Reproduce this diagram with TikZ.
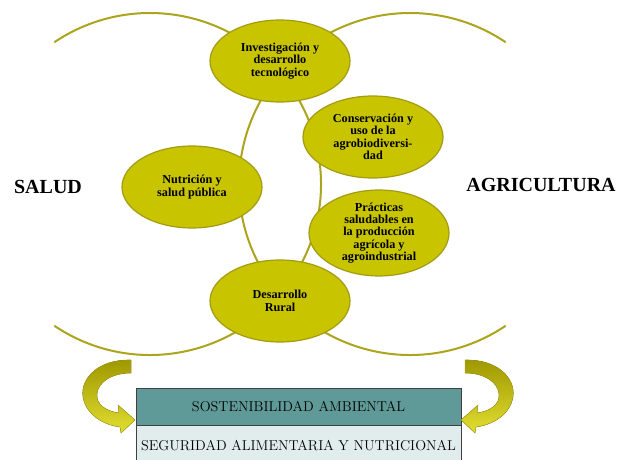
\documentclass[tikz,border=0pt]{standalone}
\usepackage{fontspec}
\newfontfamily\titlefont{Liberation Serif}[BoldFont={Liberation Serif Bold}]
\usetikzlibrary{shapes.geometric,positioning}

\definecolor{olivefill}{HTML}{C8C400}
\definecolor{olivedraw}{HTML}{A39C12}
\definecolor{olivering}{HTML}{ABA41C}
\definecolor{tealbox}{HTML}{5F9A98}
\definecolor{palebox}{HTML}{E1EDED}
\definecolor{arrowdark}{HTML}{9E9800}
\definecolor{arrowlight}{HTML}{E2DE30}

\tikzset{
  tema/.style={ellipse, fill=olivefill, draw=olivedraw, line width=1.2pt,
    minimum width=140pt, minimum height=82pt, inner sep=0pt, align=center,
    font=\titlefont\bfseries\fontsize{12.2}{12.4}\selectfont},
  anillo/.style={draw=olivering, line width=2pt},
  franja/.style={draw=black!75, line width=0.8pt, minimum width=325pt,
    minimum height=37pt, inner sep=0pt, font=\fontsize{14.3}{15}\selectfont},
  eje/.style={font=\titlefont\bfseries\fontsize{20}{22}\selectfont},
  flecha/.style={top color=arrowdark, bottom color=arrowlight, draw=olivedraw, line width=0.4pt}
}

% curved arrow, left one (mirrored for the right)
\newcommand{\flechacurva}{(131,360) .. controls (99,359) and (80,378) .. (83,397)
  .. controls (86,415) and (104,425) .. (120,427) -- (121,433) -- (135,420)
  -- (118,405) -- (119,413) .. controls (105,411) and (96,404) .. (97,394)
  .. controls (98,382) and (112,373) .. (131,373) -- cycle}

\begin{document}
\begin{tikzpicture}[x=1pt,y=-1pt]
  \clip (0,0) rectangle (629,460);

  % the two big rings
  \coordinate (cL) at (150,184);
  \coordinate (cR) at (410,184);
  \draw[anillo] (cL) ++(124:171) arc[start angle=124, end angle=-124, radius=171];
  \draw[anillo] (cR) ++(56:171) arc[start angle=56, end angle=304, radius=171];

  % themes
  \node[tema] (inves) at (280,61) {Investigación y\\desarrollo\\tecnológico};
  \node[tema] (conse) at (373,137) {Conservación y\\uso de la\\agrobiodiversi-\\dad};
  \node[tema] (nutri) at (192,187) {Nutrición y\\salud pública};
  \node[tema] (pract) at (379,233) {Prácticas\\saludables en\\la producción\\agrícola y\\agroindustrial};
  \node[tema] (rural) at (280,301) {Desarrollo\\Rural};

  \node[eje] (salud) at (48,187) {SALUD};
  \node[eje] (agri) at (541,185) {AGRICULTURA};

  % bottom bands
  \node[franja, fill=tealbox] (sost) at (298.5,406.5) {SOSTENIBILIDAD AMBIENTAL};
  \node[franja, fill=palebox, below=0pt of sost, minimum height=40pt] (segu)
    {SEGURIDAD ALIMENTARIA Y NUTRICIONAL};

  % arrows
  \filldraw[flecha] \flechacurva;
  \begin{scope}[shift={(596,0)}, xscale=-1]
    \filldraw[flecha] \flechacurva;
  \end{scope}
\end{tikzpicture}
\end{document}
